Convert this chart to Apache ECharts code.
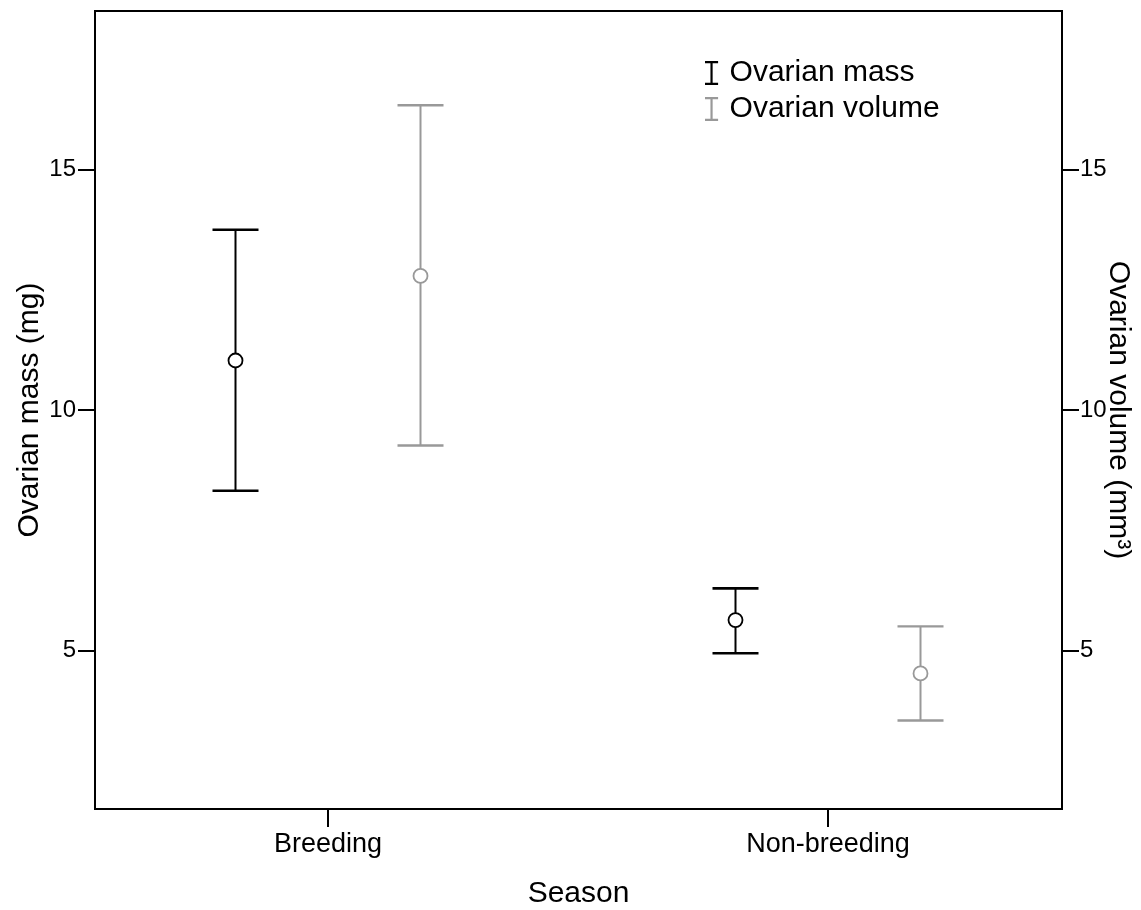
<!DOCTYPE html>
<html>
<head>
<meta charset="utf-8">
<script src="https://cdn.jsdelivr.net/npm/echarts@6/dist/echarts.min.js"></script>
<style>
  html, body { margin: 0; padding: 0; background: #fff; }
  #chart { width: 1141px; height: 910px; }
</style>
</head>
<body>
<div id="chart"></div>
<script>
// seasons on x (positions 1 and 2)
var seasons = ['Breeding', 'Non-breeding']
var yTicks = [5, 10, 15]

// ovarian mass (mg): mean and error bar ends
var massMean = [11.03, 5.63]
var massLow = [8.32, 4.94]
var massHigh = [13.75, 6.29]

// ovarian volume (mm3)
var volMean = [12.79, 4.52]
var volLow = [9.26, 3.54]
var volHigh = [16.34, 5.50]

var FONT = 'Liberation Sans, Arial, sans-serif'
var OFFSET = 0.185 // side shift of each group inside a season
var BLACK = '#000'
var GREY = '#999999'
var IBEAM = 'path://M0,0H12V2H7V20H12V22H0V20H5V2H0Z'

function barData(low, high, shift) {
  return seasons.map(function (s, i) { return [i + 1 + shift, low[i], high[i]] })
}
function pointData(mean, shift) {
  return seasons.map(function (s, i) { return [i + 1 + shift, mean[i]] })
}

function errorBar(color, capW) {
  return function (params, api) {
    var x = api.value(0)
    var lo = api.coord([x, api.value(1)])
    var hi = api.coord([x, api.value(2)])
    var half = 23
    return {
      type: 'group',
      children: [
        { type: 'line', shape: { x1: lo[0], y1: lo[1], x2: hi[0], y2: hi[1] }, style: { stroke: color, lineWidth: 2 } },
        { type: 'line', shape: { x1: hi[0] - half, y1: hi[1], x2: hi[0] + half, y2: hi[1] }, style: { stroke: color, lineWidth: capW } },
        { type: 'line', shape: { x1: lo[0] - half, y1: lo[1], x2: lo[0] + half, y2: lo[1] }, style: { stroke: color, lineWidth: capW } }
      ]
    }
  }
}

var yAxisBase = {
  type: 'value',
  min: 1.7,
  max: 18.3,
  nameLocation: 'middle',
  nameMoveOverlap: false,
  nameTextStyle: { fontFamily: FONT, fontSize: 30, color: '#000' },
  axisLine: { show: true, lineStyle: { color: '#000', width: 2 } },
  axisTick: { show: true, length: 17, customValues: yTicks, lineStyle: { color: '#000', width: 2 } },
  axisLabel: { customValues: yTicks, fontFamily: FONT, fontSize: 24, color: '#000', margin: 19 },
  splitLine: { show: false }
}

var chart = echarts.init(document.getElementById('chart'))
chart.setOption({
  animation: false,
  backgroundColor: '#fff',
  grid: {
    left: 95, right: 79, top: 11, bottom: 101,
    containLabel: false,
    outerBoundsMode: 'none',
    show: true, borderColor: '#000', borderWidth: 2, backgroundColor: 'transparent'
  },
  legend: {
    orient: 'vertical',
    left: 700,
    top: 53,
    itemWidth: 26,
    itemHeight: 24,
    itemGap: 6,
    data: [
      { name: 'Ovarian mass', icon: IBEAM, itemStyle: { color: BLACK } },
      { name: 'Ovarian volume', icon: IBEAM, itemStyle: { color: GREY } }
    ],
    textStyle: { fontFamily: FONT, fontSize: 30, color: '#000' }
  },
  xAxis: {
    type: 'value',
    min: 0.534,
    max: 2.468,
    name: 'Season',
    nameLocation: 'middle',
    nameGap: 70,
    nameMoveOverlap: false,
    nameTextStyle: { fontFamily: FONT, fontSize: 30, color: '#000' },
    axisLine: { show: true, lineStyle: { color: '#000', width: 2 } },
    axisTick: { show: true, length: 18, customValues: [1, 2], lineStyle: { color: '#000', width: 2 } },
    axisLabel: {
      customValues: [1, 2],
      fontFamily: FONT, fontSize: 27, color: '#000', margin: 22,
      formatter: function (v) { return seasons[Math.round(v) - 1] }
    },
    splitLine: { show: false }
  },
  yAxis: [
    Object.assign({}, yAxisBase, { position: 'left', name: 'Ovarian mass (mg)', nameGap: 50 }),
    Object.assign({}, yAxisBase, {
      position: 'right', name: 'Ovarian volume (mm³)', nameGap: 41, nameRotate: -90,
      axisLabel: Object.assign({}, yAxisBase.axisLabel, { margin: 18 })
    })
  ],
  series: [
    {
      name: 'Ovarian mass', type: 'custom', yAxisIndex: 0,
      itemStyle: { color: BLACK },
      renderItem: errorBar(BLACK, 2.7),
      encode: { x: 0, y: [1, 2] },
      data: barData(massLow, massHigh, -OFFSET)
    },
    {
      name: 'Ovarian volume', type: 'custom', yAxisIndex: 1,
      itemStyle: { color: GREY },
      renderItem: errorBar(GREY, 2.4),
      encode: { x: 0, y: [1, 2] },
      data: barData(volLow, volHigh, OFFSET)
    },
    {
      name: 'mass mean', type: 'scatter', yAxisIndex: 0, z: 5,
      symbol: 'circle', symbolSize: 14,
      itemStyle: { color: '#fff', borderColor: BLACK, borderWidth: 1.8, opacity: 1 },
      data: pointData(massMean, -OFFSET)
    },
    {
      name: 'volume mean', type: 'scatter', yAxisIndex: 1, z: 5,
      symbol: 'circle', symbolSize: 14,
      itemStyle: { color: '#fff', borderColor: GREY, borderWidth: 1.8, opacity: 1 },
      data: pointData(volMean, OFFSET)
    }
  ]
})
</script>
</body>
</html>
